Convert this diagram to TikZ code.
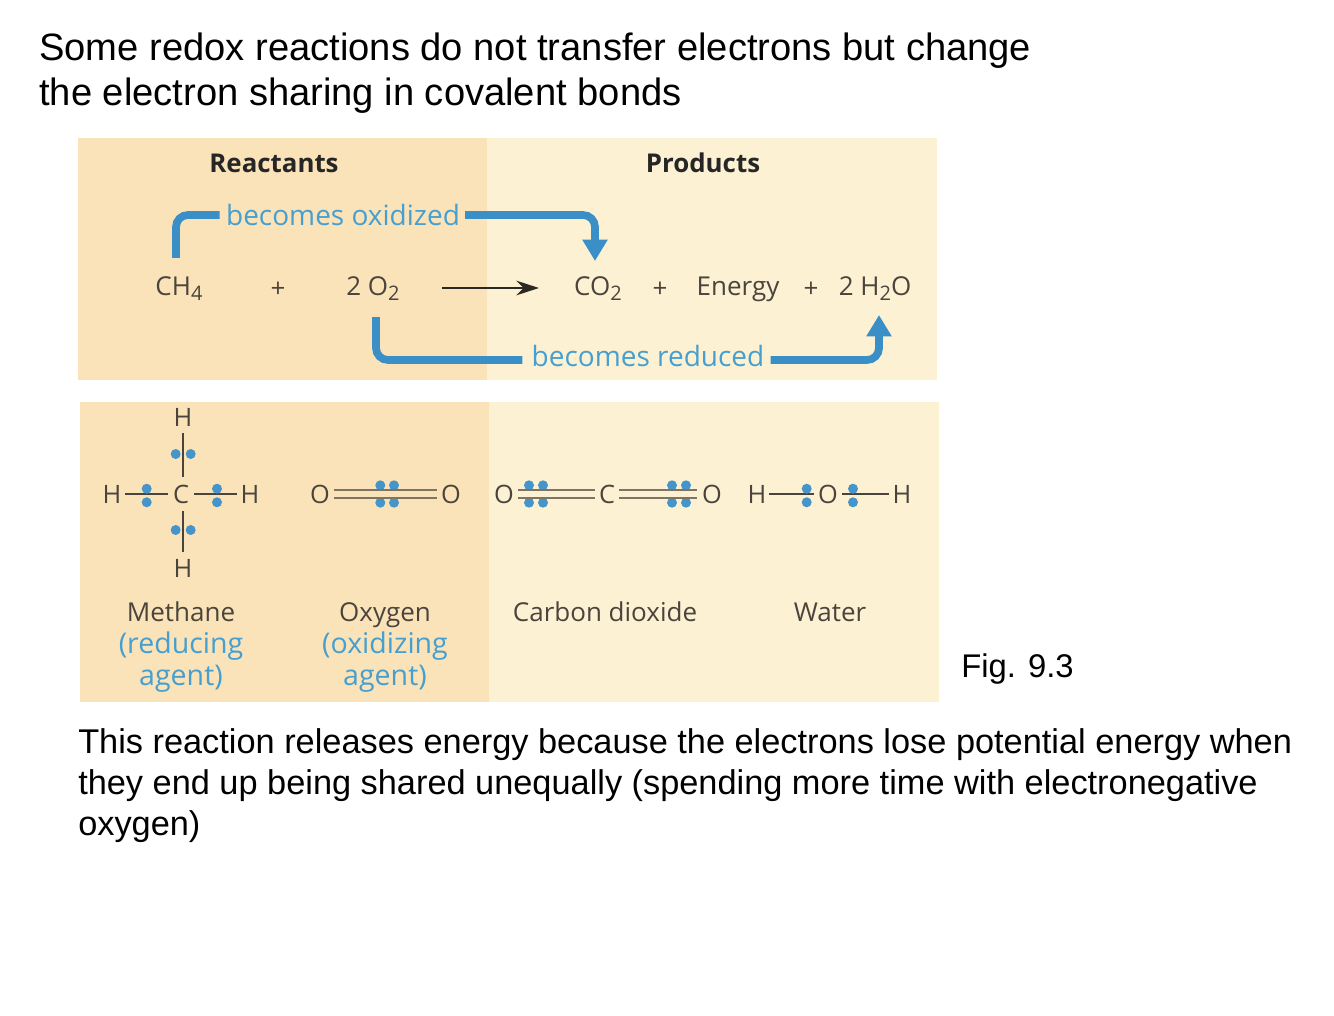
\documentclass[tikz,border=0pt]{standalone}
\usepackage{fontspec}
\setmainfont{Liberation Sans}
\newfontfamily\figfont{Open Sans}
\usetikzlibrary{arrows.meta}
\definecolor{warmL}{HTML}{FBE3B9}
\definecolor{warmR}{HTML}{FDF1D3}
\definecolor{barblue}{HTML}{3B8FC7}
\definecolor{txtblue}{HTML}{469FCF}
\definecolor{ink}{HTML}{4A443C}
\definecolor{dbl}{HTML}{7F7363}
\newcommand{\lowsub}[1]{\raisebox{-0.35ex}{\fontsize{15}{17}\selectfont #1}}
\tikzset{
  heading/.style={anchor=north west,inner sep=0pt,align=left,text=black,font=\fontsize{28.6}{33.75}\selectfont},
  bodytext/.style={anchor=north west,inner sep=0pt,align=left,text=black,font=\fontsize{25.75}{31}\selectfont},
  figtag/.style={anchor=base west,inner sep=0pt,text=black,font=\fontsize{24.6}{28}\selectfont},
  colhead/.style={anchor=base,inner sep=0pt,text=black!85,font=\figfont\bfseries\fontsize{19.4}{22}\selectfont},
  formula/.style={inner sep=0pt,text=ink,font=\figfont\fontsize{19.5}{22}\selectfont},
  bluelabel/.style={inner sep=0pt,text=txtblue,font=\figfont\fontsize{21}{24}\selectfont},
  atom/.style={inner sep=0pt,text=ink,minimum width=26*0.75pt,minimum height=32*0.75pt,font=\figfont\fontsize{19}{22}\selectfont},
  caption/.style={anchor=base,inner sep=0pt,align=center,text=ink,font=\figfont\fontsize{19.5}{23.6}\selectfont},
  capblue/.style={anchor=north,inner sep=0pt,align=center,text=txtblue,font=\figfont\fontsize{21.4}{23.6}\selectfont},
  bluebar/.style={draw=barblue,line width=5.8pt,rounded corners=9pt},
  bluehead/.style={-{Triangle[width=18pt,length=16pt]}},
  react/.style={draw=ink!60!black,line width=1pt,-{Stealth[length=17pt,width=11pt]}},
  single/.style={draw=ink,line width=1.1pt},
  double/.style={draw=dbl,line width=2pt},
  edot/.style={fill=barblue!95!white}
}
\newcommand{\dotset}[1]{\foreach \px/\py in {#1}{\fill[edot] (\px,\py) circle (5);}}
\begin{document}
\begin{tikzpicture}[x=0.75pt,y=-0.75pt]
\useasboundingbox (0,0) rectangle (1334,1016);
% panels
\fill[warmL] (78,138) rectangle (487,380);
\fill[warmR] (487,138) rectangle (937,380);
\fill[warmL] (79.5,402) rectangle (489,702);
\fill[warmR] (489,402) rectangle (939,702);
% texts
\node[heading] (title) at (39,33) {Some redox reactions do not transfer electrons but change\\the electron sharing in covalent bonds};
\node[bodytext] (body) at (78,728) {This reaction releases energy because the electrons lose potential energy when\\they end up being shared unequally (spending more time with electronegative\\oxygen)};
\node[figtag] (fig) at (961,677) {Fig. 9.3};
% top panel
\node[colhead] (reactants) at (274,173) {Reactants};
\node[colhead] (products) at (703,173) {Products};
\node[formula] (ch4) at (179,289) {CH\lowsub{4}};
\node[formula] (plusa) at (278,290) {+};
\node[formula] (otwo) at (373,289) {2 O\lowsub{2}};
\node[formula] (cotwo) at (598,289) {CO\lowsub{2}};
\node[formula] (plusb) at (660,290) {+};
\node[formula] (energy) at (738,289) {Energy};
\node[formula] (plusc) at (811,290) {+};
\node[formula] (water) at (875,289) {2 H\lowsub{2}O};
\node[bluelabel] (oxid) at (343,215) {becomes oxidized};
\node[bluelabel] (redu) at (648,356) {becomes reduced};
\coordinate (oxstart) at (176,258);
\coordinate (oxend) at (595,261);
\coordinate (redstart) at (376,317);
\coordinate (redend) at (879,315);
\coordinate (rxleft) at (otwo.east |- plusa);
\coordinate (rxright) at (cotwo.west |- plusa);
\draw[bluebar] (oxstart) |- ([xshift=-4.7pt]oxid.west);
\draw[bluebar,bluehead] ([xshift=3.75pt]oxid.east) -| (oxend);
\draw[bluebar] (redstart) |- ([xshift=-6.75pt,yshift=-3pt]redu.west);
\draw[bluebar,bluehead] ([xshift=4.5pt,yshift=-3pt]redu.east) -| (redend);
\draw[react,shorten <=42*0.75pt,shorten >=35*0.75pt] ([yshift=1.5pt]rxleft) -- ([yshift=1.5pt]rxright);
% methane
\node[atom,minimum height=34*0.75pt] (cm) at (181,494) {C};
\node[atom] (hT) at (183,417) {H};
\node[atom] (hB) at (183,568) {H};
\node[atom] (hL) at (112,494) {H};
\node[atom] (hR) at (250,494) {H};
\draw[single] (hT.south) -- (hT.south |- cm.north);
\draw[single] (hB.north) -- (hB.north |- cm.south);
\draw[single] (hL.east) -- (cm.west);
\draw[single] (cm.east) -- (hR.west);
\dotset{175.7/454,190.7/454,175.7/530,190.7/530,146.7/488.7,146.7/502.3,217/488.7,217/502.3}
% oxygen
\node[atom,minimum width=28*0.75pt] (oa) at (320,494) {O};
\node[atom,minimum width=28*0.75pt] (ob) at (451,494) {O};
\dotset{380.3/485.3,394/485.3,380.3/502.7,394/502.7}
\foreach \dy in {-4,4}{\draw[double] ([yshift=\dy*0.75pt]oa.east) -- ([yshift=\dy*0.75pt]ob.west);}
% carbon dioxide
\node[atom,minimum width=28*0.75pt] (oc) at (504,494) {O};
\node[atom,minimum width=24*0.75pt] (cc) at (607,494) {C};
\node[atom,minimum width=30*0.75pt] (od) at (712,494) {O};
\dotset{529/485.3,543/485.3,529/502.7,543/502.7,672/485.3,686/485.3,672/502.7,686/502.7}
\foreach \dy in {-4,4}{
  \draw[double] ([yshift=\dy*0.75pt]oc.east) -- ([yshift=\dy*0.75pt]cc.west);
  \draw[double] ([yshift=\dy*0.75pt]cc.east) -- ([yshift=\dy*0.75pt]od.west);}
% water
\node[atom,minimum width=24*0.75pt] (he) at (757,494) {H};
\node[atom,minimum width=28*0.75pt] (oe) at (828,494) {O};
\node[atom] (hf) at (902,494) {H};
\draw[single] (he.east) -- (oe.west);
\draw[single] (oe.east) -- (hf.west);
\dotset{806.7/488.7,806.7/502.3,853/488.7,853/502.3}
% captions
\node[caption] (mcap) at (181,621) {Methane};
\node[capblue] (mrole) at (181,632) {(reducing\\agent)};
\node[caption] (ocap) at (385,621) {Oxygen};
\node[capblue] (orole) at (385,632) {(oxidizing\\agent)};
\node[caption] (ccap) at (605,621) {Carbon dioxide};
\node[caption] (wcap) at (830,621) {Water};
\end{tikzpicture}
\end{document}
